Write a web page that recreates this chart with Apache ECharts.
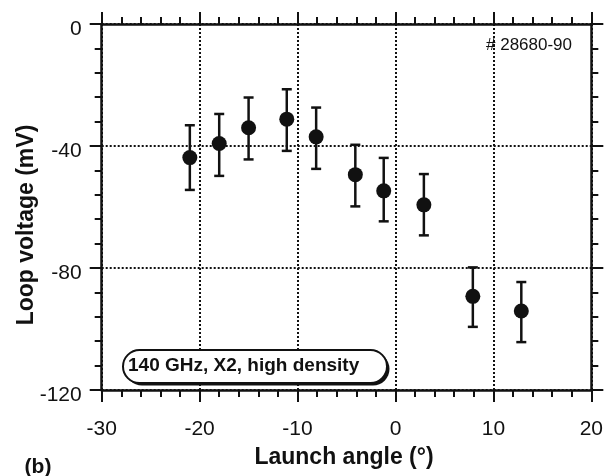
<!DOCTYPE html>
<html>
<head>
<meta charset="utf-8">
<script src="https://cdn.jsdelivr.net/npm/echarts@6/dist/echarts.min.js"></script>
<style>
html,body{margin:0;padding:0;background:#fff;}
#chart{width:606px;height:476px;}
</style>
</head>
<body>
<div id="chart"></div>
<script>
// Data
const angles   = [-21.0, -18.0, -15.0, -11.1, -8.1, -4.1, -1.2, 2.9, 7.9, 12.85];
const voltage  = [-43.8, -39.2, -34.0, -31.2, -37.0, -49.4, -54.7, -59.3, -89.3, -94.1];
const errLow   = [-54.4, -49.8, -44.4, -41.6, -47.5, -59.8, -64.7, -69.3, -99.3, -104.3];
const errHigh  = [-33.2, -29.5, -24.1, -21.4, -27.4, -39.6, -43.9, -49.2, -79.8, -84.6];
const xTicks = {min: -30, max: 20, interval: 10};
const yTicks = {min: -120, max: 0, interval: 40};
const xTitle = 'Launch angle (°)';
const yTitle = 'Loop voltage (mV)';
const panelLabel = '(b)';
const shotLabel = '# 28680-90';
const boxLabel = '140 GHz, X2, high density';

const INK = '#111';
const FONT = '"Liberation Sans", Arial, Helvetica, sans-serif';

const chart = echarts.init(document.getElementById('chart'), null, {renderer: 'canvas'});

function axisCommon(extra) {
  return Object.assign({
    axisLine: {show: true, onZero: false, lineStyle: {color: INK, width: 2.5}},
    axisTick: {show: true, inside: false, length: 12, lineStyle: {color: INK, width: 2}},
    minorTick: {show: true, splitNumber: 5, length: 7, lineStyle: {color: INK, width: 2}},
    splitLine: {show: false},
    minorSplitLine: {show: false}
  }, extra);
}

const gridSplit = {show: true, lineStyle: {color: '#111', width: 2, type: [2, 2]}};

const option = {
  backgroundColor: '#fff',
  animation: false,
  grid: {left: 101.7, right: 11, top: 24, bottom: 86, containLabel: false},
  xAxis: [
    axisCommon({
      type: 'value', position: 'bottom', min: xTicks.min, max: xTicks.max, interval: xTicks.interval,
      axisLabel: {show: true, color: INK, fontSize: 21, fontFamily: FONT, margin: 29},
      splitLine: gridSplit
    }),
    axisCommon({
      type: 'value', position: 'top', min: xTicks.min, max: xTicks.max, interval: xTicks.interval,
      axisLabel: {show: false}
    })
  ],
  yAxis: [
    axisCommon({
      type: 'value', position: 'left', min: yTicks.min, max: yTicks.max, interval: yTicks.interval,
      axisLabel: {
        show: true, color: INK, fontSize: 21, fontFamily: FONT, margin: 20,
        formatter: function (v) { return '{a|' + v + '}'; },
        rich: {a: {fontSize: 21, fontFamily: FONT, color: INK, padding: [10, 0, 0, 0]}}
      },
      splitLine: gridSplit
    }),
    axisCommon({
      type: 'value', position: 'right', min: yTicks.min, max: yTicks.max, interval: yTicks.interval,
      axisLabel: {show: false}
    })
  ],
  series: [
    {
      type: 'custom',
      xAxisIndex: 0, yAxisIndex: 0,
      data: angles.map((a, i) => [a, errLow[i], errHigh[i]]),
      encode: {x: 0, y: [1, 2]},
      renderItem: function (params, api) {
        const x = api.value(0);
        const lo = api.coord([x, api.value(1)]);
        const hi = api.coord([x, api.value(2)]);
        const w = 5;
        const st = {stroke: INK, lineWidth: 2.5};
        return {
          type: 'group',
          children: [
            {type: 'line', shape: {x1: lo[0], y1: lo[1], x2: hi[0], y2: hi[1]}, style: st},
            {type: 'line', shape: {x1: lo[0] - w, y1: lo[1], x2: lo[0] + w, y2: lo[1]}, style: st},
            {type: 'line', shape: {x1: hi[0] - w, y1: hi[1], x2: hi[0] + w, y2: hi[1]}, style: st}
          ]
        };
      },
      z: 3
    },
    {
      type: 'scatter',
      xAxisIndex: 0, yAxisIndex: 0,
      data: angles.map((a, i) => [a, voltage[i]]),
      symbol: 'circle',
      symbolSize: 15,
      itemStyle: {color: INK, opacity: 1},
      z: 4
    }
  ],
  graphic: [
    {type: 'rect', left: 125.5, top: 352.5, shape: {width: 264, height: 33, r: 16.5}, style: {fill: INK}, z: 10},
    {type: 'rect', left: 122, top: 349, shape: {width: 264, height: 33, r: 16.5}, style: {fill: '#fff', stroke: INK, lineWidth: 2}, z: 11},
    {type: 'text', x: 128, y: 366, style: {text: boxLabel, fill: INK, font: 'bold 19px ' + FONT, textVerticalAlign: 'middle', textAlign: 'left'}, z: 12},
    {type: 'text', x: 486, y: 45, style: {text: shotLabel, fill: INK, font: '17px ' + FONT, textVerticalAlign: 'middle', textAlign: 'left'}, z: 12},
    {type: 'text', x: 344, y: 458, style: {text: xTitle, fill: INK, font: 'bold 23px ' + FONT, textVerticalAlign: 'middle', textAlign: 'center'}, z: 12},
    {type: 'text', x: 38, y: 467, style: {text: panelLabel, fill: INK, font: 'bold 21px ' + FONT, textVerticalAlign: 'middle', textAlign: 'center'}, z: 12},
    {type: 'text', x: 27, y: 225, rotation: Math.PI / 2, originX: 0, originY: 0, style: {text: yTitle, fill: INK, font: 'bold 23px ' + FONT, textVerticalAlign: 'middle', textAlign: 'center'}, z: 12}
  ]
};
chart.setOption(option);
</script>
</body>
</html>
